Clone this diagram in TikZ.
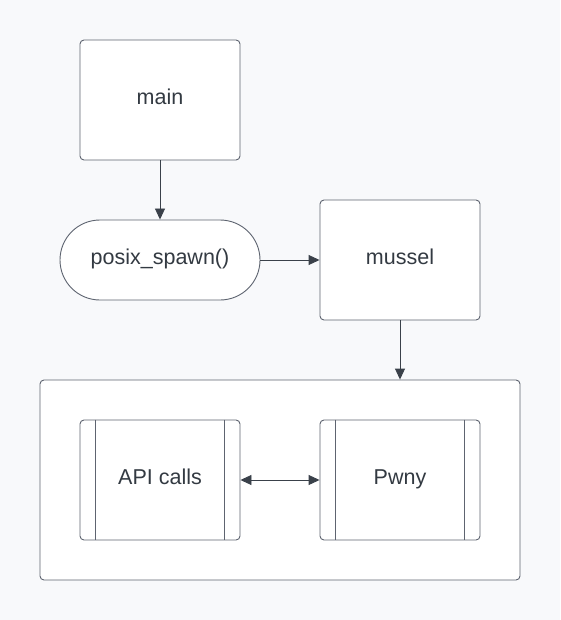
\documentclass[tikz,border=0pt]{standalone}
\usepackage{fontspec}
\setmainfont{Liberation Sans}
\usetikzlibrary{arrows.meta}
\definecolor{bgcol}{HTML}{F8F9FB}
\definecolor{linecol}{HTML}{5E6470}
\definecolor{arrcol}{HTML}{3A414A}
\definecolor{txtcol}{HTML}{333A42}
\tikzset{
    box/.style={draw=linecol, fill=white, rounded corners=4pt, minimum width=160pt, minimum height=120pt, text=txtcol, font=\fontsize{21.5}{25}\selectfont, text height=1.8ex, text depth=0.05ex, line width=0.9pt},
    pill/.style={draw=linecol, fill=white, rounded corners=40pt, minimum width=200pt, minimum height=80pt, text=txtcol, font=\fontsize{21.5}{25}\selectfont, text height=1.8ex, text depth=0.05ex, line width=0.9pt},
    link/.style={draw=arrcol, line width=0.9pt, -{Triangle[length=11pt,width=10pt]}},
}
\begin{document}
\begin{tikzpicture}[x=1pt, y=-1pt]
    \useasboundingbox[fill=bgcol] (0,0) rectangle (560,620);

    % Top: main -> posix_spawn() -> mussel
    \node[box] (main) at (160,100) {main};
    \node[pill] (spawn) at (160,260) {posix\_spawn()};
    \node[box] (mussel) at (400,260) {mussel};

    % Container
    \node[draw=linecol, fill=white, rounded corners=4pt, line width=0.9pt, minimum width=480pt, minimum height=200pt] (frame) at (280,480) {};

    % Subprocesses
    \node[box] (api) at (160,480) {API calls};
    \node[box] (pwny) at (400,480) {Pwny};
    \draw[linecol, line width=0.9pt] ([xshift=16pt]api.north west) -- ([xshift=16pt]api.south west);
    \draw[linecol, line width=0.9pt] ([xshift=-16pt]api.north east) -- ([xshift=-16pt]api.south east);
    \draw[linecol, line width=0.9pt] ([xshift=16pt]pwny.north west) -- ([xshift=16pt]pwny.south west);
    \draw[linecol, line width=0.9pt] ([xshift=-16pt]pwny.north east) -- ([xshift=-16pt]pwny.south east);

    % Arrows
    \draw[link] (main) -- (spawn);
    \draw[link] (spawn) -- (mussel);
    \draw[link] (mussel.south) -- (frame.north -| mussel.south);
    \draw[link, {Triangle[length=11pt,width=10pt]}-{Triangle[length=11pt,width=10pt]}] (api) -- (pwny);
\end{tikzpicture}
\end{document}
